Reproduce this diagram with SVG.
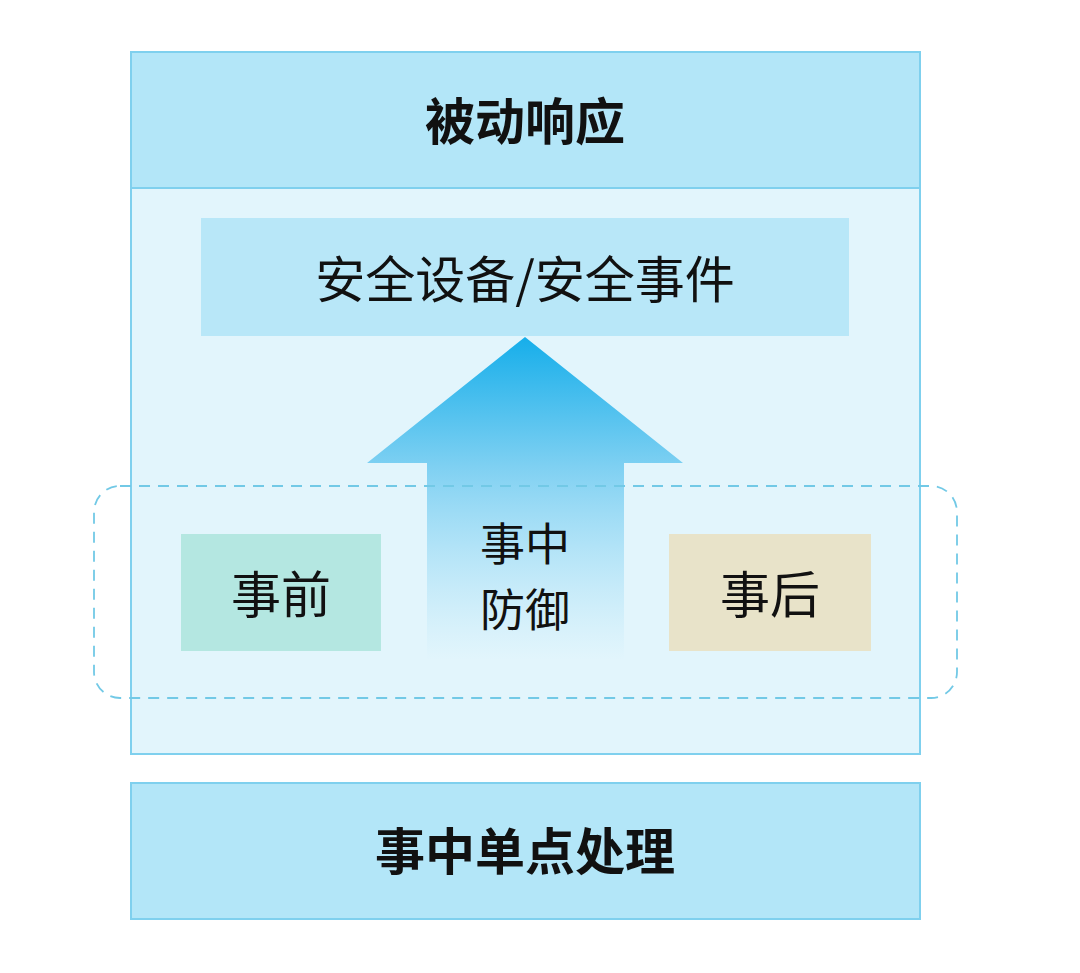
<svg xmlns="http://www.w3.org/2000/svg" width="1080" height="973" viewBox="0 0 1080 973">
<style>
.t{font-family:"Noto Sans CJK SC","Noto Sans",sans-serif;fill:#111;text-anchor:middle;dominant-baseline:central}
.b{font-weight:bold}
.hdr{fill:#b3e6f8;stroke:#7fd0ee;stroke-width:2}
</style>
<defs>
<linearGradient id="ag" x1="0" y1="337" x2="0" y2="660" gradientUnits="userSpaceOnUse">
<stop offset="0" stop-color="#16aeea"/>
<stop offset="0.4" stop-color="#7ed0f2"/>
<stop offset="1" stop-color="#e2f5fc" stop-opacity="0.6"/>
</linearGradient>
</defs>
<rect width="1080" height="973" fill="#fff"/>
<g id="passive">
<rect x="131" y="52" width="789" height="702" fill="#e2f5fc" stroke="#7fd0ee" stroke-width="2"/>
<rect class="hdr" x="131" y="52" width="789" height="136"/>
<text class="t b" x="525" y="118" font-size="50">被动响应</text>
</g>
<g id="security">
<rect x="201" y="218" width="648" height="118" fill="#b8e7f8"/>
<text class="t" x="525" y="276" font-size="50">安全设备/安全事件</text>
</g>
<g id="connectors">
<path d="M525,337 L683,463 L624,463 L624,660 L427,660 L427,463 L367,463 Z" fill="url(#ag)"/>
</g>
<g id="phase">
<rect x="94" y="486" width="863" height="212" rx="26" fill="none" stroke="#72c9e6" stroke-width="1.8" stroke-dasharray="11,8"/>
</g>
<g id="before">
<rect x="181" y="534" width="200" height="117" fill="#b4e7e1"/>
<text class="t" x="281" y="591" font-size="50">事前</text>
</g>
<g id="during">
<text class="t" x="525" y="541" font-size="45">事中</text>
<text class="t" x="525" y="607" font-size="45">防御</text>
</g>
<g id="after">
<rect x="669" y="534" width="202" height="117" fill="#e8e3c9"/>
<text class="t" x="770" y="591" font-size="50">事后</text>
</g>
<g id="single">
<rect class="hdr" x="131" y="783" width="789" height="136"/>
<text class="t b" x="525" y="848" font-size="50">事中单点处理</text>
</g>
</svg>
